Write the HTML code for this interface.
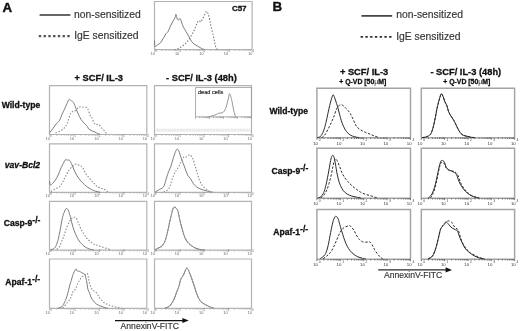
<!DOCTYPE html>
<html><head><meta charset="utf-8"><style>
html,body{margin:0;padding:0;background:#fff;}
svg{display:block;font-family:"Liberation Sans", sans-serif;will-change:transform;}
</style></head><body>
<svg width="520" height="331" viewBox="0 0 520 331">
<rect width="520" height="331" fill="#fff"/>
<text x="2.6" y="11.6" font-size="13.3" font-weight="bold" font-style="normal" fill="#111" text-anchor="start" stroke="#111" stroke-width="0.45" stroke-linejoin="round">A</text>
<line x1="39.6" y1="15.0" x2="70.4" y2="15.0" stroke="#555" stroke-width="1.8"/>
<line x1="38.8" y1="36.1" x2="70.2" y2="36.1" stroke="#555" stroke-width="2.1" stroke-dasharray="2.4,2.35"/>
<text x="74.1" y="17.7" font-size="10.35" font-weight="normal" font-style="normal" fill="#333" text-anchor="start" stroke="#333" stroke-width="0.15">non-sensitized</text>
<text x="74.2" y="39.2" font-size="10.35" font-weight="normal" font-style="normal" fill="#333" text-anchor="start" stroke="#333" stroke-width="0.15">IgE sensitized</text>
<path d="M154.5,49.6 L154.5,1.5 L252.1,1.5 L252.1,49.6" fill="none" stroke="#b3b3b3" stroke-width="1.2"/>
<line x1="154.5" y1="49.6" x2="252.1" y2="49.6" stroke="#b3b3b3" stroke-width="1.2"/>
<path d="M161.8,49.6 v1.3 M166.1,49.6 v1.3 M169.2,49.6 v1.3 M171.6,49.6 v1.3 M173.5,49.6 v1.3 M175.1,49.6 v1.3 M176.5,49.6 v1.3 M177.8,49.6 v1.3 M186.2,49.6 v1.3 M190.5,49.6 v1.3 M193.6,49.6 v1.3 M196.0,49.6 v1.3 M197.9,49.6 v1.3 M199.5,49.6 v1.3 M200.9,49.6 v1.3 M202.2,49.6 v1.3 M210.6,49.6 v1.3 M214.9,49.6 v1.3 M218.0,49.6 v1.3 M220.4,49.6 v1.3 M222.3,49.6 v1.3 M223.9,49.6 v1.3 M225.3,49.6 v1.3 M226.6,49.6 v1.3 M235.0,49.6 v1.3 M239.3,49.6 v1.3 M242.4,49.6 v1.3 M244.8,49.6 v1.3 M246.7,49.6 v1.3 M248.3,49.6 v1.3 M249.7,49.6 v1.3 M251.0,49.6 v1.3 M154.5,49.6 v2 M178.9,49.6 v2 M203.3,49.6 v2 M227.7,49.6 v2 M252.1,49.6 v2" stroke="#b3b3b3" stroke-width="0.8" fill="none"/>
<text x="154.8" y="54.7" font-size="3.8" fill="#666" text-anchor="end">10</text>
<text x="155.0" y="51.8" font-size="2.8" fill="#666">0</text>
<text x="179.2" y="54.7" font-size="3.8" fill="#666" text-anchor="end">10</text>
<text x="179.4" y="51.8" font-size="2.8" fill="#666">1</text>
<text x="203.6" y="54.7" font-size="3.8" fill="#666" text-anchor="end">10</text>
<text x="203.8" y="51.8" font-size="2.8" fill="#666">2</text>
<text x="228.0" y="54.7" font-size="3.8" fill="#666" text-anchor="end">10</text>
<text x="228.2" y="51.8" font-size="2.8" fill="#666">3</text>
<text x="252.4" y="54.7" font-size="3.8" fill="#666" text-anchor="end">10</text>
<text x="252.6" y="51.8" font-size="2.8" fill="#666">4</text>
<text x="231.9" y="11.2" font-size="8" font-weight="bold" font-style="normal" fill="#111" text-anchor="start" stroke="#111" stroke-width="0.3">C57</text>
<path d="M154.5,40.5 C154.6,41.5 154.5,45.6 155.0,46.3 C155.5,47.0 156.7,45.5 157.6,44.9 C158.5,44.3 159.4,43.9 160.3,42.9 C161.2,41.9 162.2,40.2 163.1,38.7 C164.0,37.2 165.1,35.0 165.9,33.8 C166.7,32.6 167.3,32.9 168.0,31.7 C168.7,30.6 169.3,28.6 170.1,26.9 C170.9,25.2 172.1,22.8 172.9,21.3 C173.7,19.8 174.5,19.0 175.0,17.8 C175.5,16.6 175.5,14.1 175.9,14.3 C176.3,14.5 176.8,18.3 177.3,19.2 C177.8,20.1 178.2,20.0 178.7,19.9 C179.2,19.8 179.6,18.1 180.1,18.5 C180.6,18.9 181.0,20.6 181.5,22.0 C182.0,23.4 182.5,25.3 183.3,26.9 C184.1,28.5 185.2,30.1 186.1,31.7 C187.0,33.3 188.0,35.0 188.9,36.6 C189.8,38.2 190.7,40.2 191.6,41.5 C192.5,42.8 193.3,43.4 194.4,44.2 C195.5,45.0 196.7,45.6 197.9,46.3 C199.1,47.0 200.2,47.8 201.4,48.4 C202.6,49.0 204.3,49.4 204.9,49.6" fill="none" stroke="#7c7c7c" stroke-width="1.0" stroke-linejoin="round"/>
<path d="M174.3,49.8 C175.0,49.6 177.1,49.0 178.4,48.4 C179.7,47.8 180.7,47.1 181.9,46.3 C183.1,45.5 184.2,44.8 185.4,43.6 C186.6,42.5 187.8,41.0 188.9,39.4 C190.1,37.8 191.3,35.6 192.3,33.8 C193.3,31.9 194.3,30.1 195.1,28.3 C195.9,26.5 196.5,24.0 197.2,22.7 C197.9,21.4 198.7,20.7 199.3,20.6 C199.9,20.5 200.1,22.4 200.7,22.0 C201.3,21.6 202.1,19.8 202.8,18.5 C203.5,17.2 204.3,15.5 204.9,14.3 C205.5,13.1 205.9,11.3 206.5,11.3 C207.1,11.3 207.8,12.9 208.3,14.3 C208.8,15.7 209.2,17.8 209.7,19.9 C210.2,22.0 210.5,24.3 211.1,26.9 C211.7,29.4 212.6,32.7 213.2,35.2 C213.8,37.8 214.1,40.1 214.6,42.2 C215.1,44.3 215.5,46.4 216.0,47.7 C216.5,49.0 217.2,49.4 217.4,49.8" fill="none" stroke="#7c7c7c" stroke-width="1.1" stroke-dasharray="1.5,1.6" stroke-linejoin="round"/>
<text x="74.6" y="80.5" font-size="9.3" font-weight="bold" font-style="normal" fill="#111" text-anchor="start" stroke="#111" stroke-width="0.3">+ SCF/ IL-3</text>
<text x="166.0" y="80.5" font-size="9.3" font-weight="bold" font-style="normal" fill="#111" text-anchor="start" stroke="#111" stroke-width="0.3">- SCF/ IL-3 (48h)</text>
<text x="1.7" y="107.9" font-size="8.6" font-weight="bold" font-style="normal" fill="#111" text-anchor="start" stroke="#111" stroke-width="0.3">Wild-type</text>
<text x="4.8" y="167.6" font-size="8.6" font-weight="bold" font-style="italic" fill="#111" text-anchor="start" stroke="#111" stroke-width="0.3">vav-Bcl2</text>
<text x="3.7" y="226.2" font-size="8.6" font-weight="bold" font-style="normal" fill="#111" text-anchor="start" stroke="#111" stroke-width="0.3">Casp-9<tspan font-size="8.6" dy="-3.2">-/-</tspan></text>
<text x="5.3" y="284.9" font-size="8.6" font-weight="bold" font-style="normal" fill="#111" text-anchor="start" stroke="#111" stroke-width="0.3">Apaf-1<tspan font-size="8.6" dy="-3.2">-/-</tspan></text>
<path d="M49.5,134.5 L49.5,85.6 L146.8,85.6 L146.8,134.5" fill="none" stroke="#b3b3b3" stroke-width="1.2"/>
<line x1="49.5" y1="134.5" x2="146.8" y2="134.5" stroke="#b3b3b3" stroke-width="1.2"/>
<path d="M56.8,134.5 v1.3 M61.1,134.5 v1.3 M64.1,134.5 v1.3 M66.5,134.5 v1.3 M68.4,134.5 v1.3 M70.1,134.5 v1.3 M71.5,134.5 v1.3 M72.7,134.5 v1.3 M81.1,134.5 v1.3 M85.4,134.5 v1.3 M88.5,134.5 v1.3 M90.8,134.5 v1.3 M92.8,134.5 v1.3 M94.4,134.5 v1.3 M95.8,134.5 v1.3 M97.0,134.5 v1.3 M105.5,134.5 v1.3 M109.8,134.5 v1.3 M112.8,134.5 v1.3 M115.2,134.5 v1.3 M117.1,134.5 v1.3 M118.7,134.5 v1.3 M120.1,134.5 v1.3 M121.4,134.5 v1.3 M129.8,134.5 v1.3 M134.1,134.5 v1.3 M137.1,134.5 v1.3 M139.5,134.5 v1.3 M141.4,134.5 v1.3 M143.0,134.5 v1.3 M144.4,134.5 v1.3 M145.7,134.5 v1.3 M49.5,134.5 v2 M73.8,134.5 v2 M98.2,134.5 v2 M122.5,134.5 v2 M146.8,134.5 v2" stroke="#b3b3b3" stroke-width="0.8" fill="none"/>
<text x="49.8" y="139.6" font-size="3.8" fill="#666" text-anchor="end">10</text>
<text x="50.0" y="136.7" font-size="2.8" fill="#666">0</text>
<text x="74.1" y="139.6" font-size="3.8" fill="#666" text-anchor="end">10</text>
<text x="74.3" y="136.7" font-size="2.8" fill="#666">1</text>
<text x="98.5" y="139.6" font-size="3.8" fill="#666" text-anchor="end">10</text>
<text x="98.7" y="136.7" font-size="2.8" fill="#666">2</text>
<text x="122.8" y="139.6" font-size="3.8" fill="#666" text-anchor="end">10</text>
<text x="123.0" y="136.7" font-size="2.8" fill="#666">3</text>
<text x="147.1" y="139.6" font-size="3.8" fill="#666" text-anchor="end">10</text>
<text x="147.3" y="136.7" font-size="2.8" fill="#666">4</text>
<path d="M154.5,134.5 L154.5,85.6 L251.5,85.6 L251.5,134.5" fill="none" stroke="#b3b3b3" stroke-width="1.2"/>
<line x1="154.5" y1="134.5" x2="251.5" y2="134.5" stroke="#b3b3b3" stroke-width="1.2"/>
<path d="M161.8,134.5 v1.3 M166.1,134.5 v1.3 M169.1,134.5 v1.3 M171.5,134.5 v1.3 M173.4,134.5 v1.3 M175.0,134.5 v1.3 M176.4,134.5 v1.3 M177.6,134.5 v1.3 M186.0,134.5 v1.3 M190.3,134.5 v1.3 M193.3,134.5 v1.3 M195.7,134.5 v1.3 M197.6,134.5 v1.3 M199.2,134.5 v1.3 M200.6,134.5 v1.3 M201.9,134.5 v1.3 M210.3,134.5 v1.3 M214.6,134.5 v1.3 M217.6,134.5 v1.3 M220.0,134.5 v1.3 M221.9,134.5 v1.3 M223.5,134.5 v1.3 M224.9,134.5 v1.3 M226.1,134.5 v1.3 M234.5,134.5 v1.3 M238.8,134.5 v1.3 M241.8,134.5 v1.3 M244.2,134.5 v1.3 M246.1,134.5 v1.3 M247.7,134.5 v1.3 M249.1,134.5 v1.3 M250.4,134.5 v1.3 M154.5,134.5 v2 M178.8,134.5 v2 M203.0,134.5 v2 M227.2,134.5 v2 M251.5,134.5 v2" stroke="#b3b3b3" stroke-width="0.8" fill="none"/>
<text x="154.8" y="139.6" font-size="3.8" fill="#666" text-anchor="end">10</text>
<text x="155.0" y="136.7" font-size="2.8" fill="#666">0</text>
<text x="179.1" y="139.6" font-size="3.8" fill="#666" text-anchor="end">10</text>
<text x="179.2" y="136.7" font-size="2.8" fill="#666">1</text>
<text x="203.3" y="139.6" font-size="3.8" fill="#666" text-anchor="end">10</text>
<text x="203.5" y="136.7" font-size="2.8" fill="#666">2</text>
<text x="227.6" y="139.6" font-size="3.8" fill="#666" text-anchor="end">10</text>
<text x="227.8" y="136.7" font-size="2.8" fill="#666">3</text>
<text x="251.8" y="139.6" font-size="3.8" fill="#666" text-anchor="end">10</text>
<text x="252.0" y="136.7" font-size="2.8" fill="#666">4</text>
<path d="M49.5,192.3 L49.5,143.8 L146.8,143.8 L146.8,192.3" fill="none" stroke="#b3b3b3" stroke-width="1.2"/>
<line x1="49.5" y1="192.3" x2="146.8" y2="192.3" stroke="#b3b3b3" stroke-width="1.2"/>
<path d="M56.8,192.3 v1.3 M61.1,192.3 v1.3 M64.1,192.3 v1.3 M66.5,192.3 v1.3 M68.4,192.3 v1.3 M70.1,192.3 v1.3 M71.5,192.3 v1.3 M72.7,192.3 v1.3 M81.1,192.3 v1.3 M85.4,192.3 v1.3 M88.5,192.3 v1.3 M90.8,192.3 v1.3 M92.8,192.3 v1.3 M94.4,192.3 v1.3 M95.8,192.3 v1.3 M97.0,192.3 v1.3 M105.5,192.3 v1.3 M109.8,192.3 v1.3 M112.8,192.3 v1.3 M115.2,192.3 v1.3 M117.1,192.3 v1.3 M118.7,192.3 v1.3 M120.1,192.3 v1.3 M121.4,192.3 v1.3 M129.8,192.3 v1.3 M134.1,192.3 v1.3 M137.1,192.3 v1.3 M139.5,192.3 v1.3 M141.4,192.3 v1.3 M143.0,192.3 v1.3 M144.4,192.3 v1.3 M145.7,192.3 v1.3 M49.5,192.3 v2 M73.8,192.3 v2 M98.2,192.3 v2 M122.5,192.3 v2 M146.8,192.3 v2" stroke="#b3b3b3" stroke-width="0.8" fill="none"/>
<text x="49.8" y="197.4" font-size="3.8" fill="#666" text-anchor="end">10</text>
<text x="50.0" y="194.5" font-size="2.8" fill="#666">0</text>
<text x="74.1" y="197.4" font-size="3.8" fill="#666" text-anchor="end">10</text>
<text x="74.3" y="194.5" font-size="2.8" fill="#666">1</text>
<text x="98.5" y="197.4" font-size="3.8" fill="#666" text-anchor="end">10</text>
<text x="98.7" y="194.5" font-size="2.8" fill="#666">2</text>
<text x="122.8" y="197.4" font-size="3.8" fill="#666" text-anchor="end">10</text>
<text x="123.0" y="194.5" font-size="2.8" fill="#666">3</text>
<text x="147.1" y="197.4" font-size="3.8" fill="#666" text-anchor="end">10</text>
<text x="147.3" y="194.5" font-size="2.8" fill="#666">4</text>
<path d="M154.5,192.3 L154.5,143.8 L251.5,143.8 L251.5,192.3" fill="none" stroke="#b3b3b3" stroke-width="1.2"/>
<line x1="154.5" y1="192.3" x2="251.5" y2="192.3" stroke="#b3b3b3" stroke-width="1.2"/>
<path d="M161.8,192.3 v1.3 M166.1,192.3 v1.3 M169.1,192.3 v1.3 M171.5,192.3 v1.3 M173.4,192.3 v1.3 M175.0,192.3 v1.3 M176.4,192.3 v1.3 M177.6,192.3 v1.3 M186.0,192.3 v1.3 M190.3,192.3 v1.3 M193.3,192.3 v1.3 M195.7,192.3 v1.3 M197.6,192.3 v1.3 M199.2,192.3 v1.3 M200.6,192.3 v1.3 M201.9,192.3 v1.3 M210.3,192.3 v1.3 M214.6,192.3 v1.3 M217.6,192.3 v1.3 M220.0,192.3 v1.3 M221.9,192.3 v1.3 M223.5,192.3 v1.3 M224.9,192.3 v1.3 M226.1,192.3 v1.3 M234.5,192.3 v1.3 M238.8,192.3 v1.3 M241.8,192.3 v1.3 M244.2,192.3 v1.3 M246.1,192.3 v1.3 M247.7,192.3 v1.3 M249.1,192.3 v1.3 M250.4,192.3 v1.3 M154.5,192.3 v2 M178.8,192.3 v2 M203.0,192.3 v2 M227.2,192.3 v2 M251.5,192.3 v2" stroke="#b3b3b3" stroke-width="0.8" fill="none"/>
<text x="154.8" y="197.4" font-size="3.8" fill="#666" text-anchor="end">10</text>
<text x="155.0" y="194.5" font-size="2.8" fill="#666">0</text>
<text x="179.1" y="197.4" font-size="3.8" fill="#666" text-anchor="end">10</text>
<text x="179.2" y="194.5" font-size="2.8" fill="#666">1</text>
<text x="203.3" y="197.4" font-size="3.8" fill="#666" text-anchor="end">10</text>
<text x="203.5" y="194.5" font-size="2.8" fill="#666">2</text>
<text x="227.6" y="197.4" font-size="3.8" fill="#666" text-anchor="end">10</text>
<text x="227.8" y="194.5" font-size="2.8" fill="#666">3</text>
<text x="251.8" y="197.4" font-size="3.8" fill="#666" text-anchor="end">10</text>
<text x="252.0" y="194.5" font-size="2.8" fill="#666">4</text>
<path d="M49.5,250.1 L49.5,201.3 L146.8,201.3 L146.8,250.1" fill="none" stroke="#b3b3b3" stroke-width="1.2"/>
<line x1="49.5" y1="250.1" x2="146.8" y2="250.1" stroke="#b3b3b3" stroke-width="1.2"/>
<path d="M56.8,250.1 v1.3 M61.1,250.1 v1.3 M64.1,250.1 v1.3 M66.5,250.1 v1.3 M68.4,250.1 v1.3 M70.1,250.1 v1.3 M71.5,250.1 v1.3 M72.7,250.1 v1.3 M81.1,250.1 v1.3 M85.4,250.1 v1.3 M88.5,250.1 v1.3 M90.8,250.1 v1.3 M92.8,250.1 v1.3 M94.4,250.1 v1.3 M95.8,250.1 v1.3 M97.0,250.1 v1.3 M105.5,250.1 v1.3 M109.8,250.1 v1.3 M112.8,250.1 v1.3 M115.2,250.1 v1.3 M117.1,250.1 v1.3 M118.7,250.1 v1.3 M120.1,250.1 v1.3 M121.4,250.1 v1.3 M129.8,250.1 v1.3 M134.1,250.1 v1.3 M137.1,250.1 v1.3 M139.5,250.1 v1.3 M141.4,250.1 v1.3 M143.0,250.1 v1.3 M144.4,250.1 v1.3 M145.7,250.1 v1.3 M49.5,250.1 v2 M73.8,250.1 v2 M98.2,250.1 v2 M122.5,250.1 v2 M146.8,250.1 v2" stroke="#b3b3b3" stroke-width="0.8" fill="none"/>
<text x="49.8" y="255.2" font-size="3.8" fill="#666" text-anchor="end">10</text>
<text x="50.0" y="252.3" font-size="2.8" fill="#666">0</text>
<text x="74.1" y="255.2" font-size="3.8" fill="#666" text-anchor="end">10</text>
<text x="74.3" y="252.3" font-size="2.8" fill="#666">1</text>
<text x="98.5" y="255.2" font-size="3.8" fill="#666" text-anchor="end">10</text>
<text x="98.7" y="252.3" font-size="2.8" fill="#666">2</text>
<text x="122.8" y="255.2" font-size="3.8" fill="#666" text-anchor="end">10</text>
<text x="123.0" y="252.3" font-size="2.8" fill="#666">3</text>
<text x="147.1" y="255.2" font-size="3.8" fill="#666" text-anchor="end">10</text>
<text x="147.3" y="252.3" font-size="2.8" fill="#666">4</text>
<path d="M154.5,250.1 L154.5,201.3 L251.5,201.3 L251.5,250.1" fill="none" stroke="#b3b3b3" stroke-width="1.2"/>
<line x1="154.5" y1="250.1" x2="251.5" y2="250.1" stroke="#b3b3b3" stroke-width="1.2"/>
<path d="M161.8,250.1 v1.3 M166.1,250.1 v1.3 M169.1,250.1 v1.3 M171.5,250.1 v1.3 M173.4,250.1 v1.3 M175.0,250.1 v1.3 M176.4,250.1 v1.3 M177.6,250.1 v1.3 M186.0,250.1 v1.3 M190.3,250.1 v1.3 M193.3,250.1 v1.3 M195.7,250.1 v1.3 M197.6,250.1 v1.3 M199.2,250.1 v1.3 M200.6,250.1 v1.3 M201.9,250.1 v1.3 M210.3,250.1 v1.3 M214.6,250.1 v1.3 M217.6,250.1 v1.3 M220.0,250.1 v1.3 M221.9,250.1 v1.3 M223.5,250.1 v1.3 M224.9,250.1 v1.3 M226.1,250.1 v1.3 M234.5,250.1 v1.3 M238.8,250.1 v1.3 M241.8,250.1 v1.3 M244.2,250.1 v1.3 M246.1,250.1 v1.3 M247.7,250.1 v1.3 M249.1,250.1 v1.3 M250.4,250.1 v1.3 M154.5,250.1 v2 M178.8,250.1 v2 M203.0,250.1 v2 M227.2,250.1 v2 M251.5,250.1 v2" stroke="#b3b3b3" stroke-width="0.8" fill="none"/>
<text x="154.8" y="255.2" font-size="3.8" fill="#666" text-anchor="end">10</text>
<text x="155.0" y="252.3" font-size="2.8" fill="#666">0</text>
<text x="179.1" y="255.2" font-size="3.8" fill="#666" text-anchor="end">10</text>
<text x="179.2" y="252.3" font-size="2.8" fill="#666">1</text>
<text x="203.3" y="255.2" font-size="3.8" fill="#666" text-anchor="end">10</text>
<text x="203.5" y="252.3" font-size="2.8" fill="#666">2</text>
<text x="227.6" y="255.2" font-size="3.8" fill="#666" text-anchor="end">10</text>
<text x="227.8" y="252.3" font-size="2.8" fill="#666">3</text>
<text x="251.8" y="255.2" font-size="3.8" fill="#666" text-anchor="end">10</text>
<text x="252.0" y="252.3" font-size="2.8" fill="#666">4</text>
<path d="M49.5,308.4 L49.5,259.0 L146.8,259.0 L146.8,308.4" fill="none" stroke="#b3b3b3" stroke-width="1.2"/>
<line x1="49.5" y1="308.4" x2="146.8" y2="308.4" stroke="#b3b3b3" stroke-width="1.2"/>
<path d="M56.8,308.4 v1.3 M61.1,308.4 v1.3 M64.1,308.4 v1.3 M66.5,308.4 v1.3 M68.4,308.4 v1.3 M70.1,308.4 v1.3 M71.5,308.4 v1.3 M72.7,308.4 v1.3 M81.1,308.4 v1.3 M85.4,308.4 v1.3 M88.5,308.4 v1.3 M90.8,308.4 v1.3 M92.8,308.4 v1.3 M94.4,308.4 v1.3 M95.8,308.4 v1.3 M97.0,308.4 v1.3 M105.5,308.4 v1.3 M109.8,308.4 v1.3 M112.8,308.4 v1.3 M115.2,308.4 v1.3 M117.1,308.4 v1.3 M118.7,308.4 v1.3 M120.1,308.4 v1.3 M121.4,308.4 v1.3 M129.8,308.4 v1.3 M134.1,308.4 v1.3 M137.1,308.4 v1.3 M139.5,308.4 v1.3 M141.4,308.4 v1.3 M143.0,308.4 v1.3 M144.4,308.4 v1.3 M145.7,308.4 v1.3 M49.5,308.4 v2 M73.8,308.4 v2 M98.2,308.4 v2 M122.5,308.4 v2 M146.8,308.4 v2" stroke="#b3b3b3" stroke-width="0.8" fill="none"/>
<text x="49.8" y="313.5" font-size="3.8" fill="#666" text-anchor="end">10</text>
<text x="50.0" y="310.6" font-size="2.8" fill="#666">0</text>
<text x="74.1" y="313.5" font-size="3.8" fill="#666" text-anchor="end">10</text>
<text x="74.3" y="310.6" font-size="2.8" fill="#666">1</text>
<text x="98.5" y="313.5" font-size="3.8" fill="#666" text-anchor="end">10</text>
<text x="98.7" y="310.6" font-size="2.8" fill="#666">2</text>
<text x="122.8" y="313.5" font-size="3.8" fill="#666" text-anchor="end">10</text>
<text x="123.0" y="310.6" font-size="2.8" fill="#666">3</text>
<text x="147.1" y="313.5" font-size="3.8" fill="#666" text-anchor="end">10</text>
<text x="147.3" y="310.6" font-size="2.8" fill="#666">4</text>
<path d="M154.5,308.4 L154.5,259.0 L251.5,259.0 L251.5,308.4" fill="none" stroke="#b3b3b3" stroke-width="1.2"/>
<line x1="154.5" y1="308.4" x2="251.5" y2="308.4" stroke="#b3b3b3" stroke-width="1.2"/>
<path d="M161.8,308.4 v1.3 M166.1,308.4 v1.3 M169.1,308.4 v1.3 M171.5,308.4 v1.3 M173.4,308.4 v1.3 M175.0,308.4 v1.3 M176.4,308.4 v1.3 M177.6,308.4 v1.3 M186.0,308.4 v1.3 M190.3,308.4 v1.3 M193.3,308.4 v1.3 M195.7,308.4 v1.3 M197.6,308.4 v1.3 M199.2,308.4 v1.3 M200.6,308.4 v1.3 M201.9,308.4 v1.3 M210.3,308.4 v1.3 M214.6,308.4 v1.3 M217.6,308.4 v1.3 M220.0,308.4 v1.3 M221.9,308.4 v1.3 M223.5,308.4 v1.3 M224.9,308.4 v1.3 M226.1,308.4 v1.3 M234.5,308.4 v1.3 M238.8,308.4 v1.3 M241.8,308.4 v1.3 M244.2,308.4 v1.3 M246.1,308.4 v1.3 M247.7,308.4 v1.3 M249.1,308.4 v1.3 M250.4,308.4 v1.3 M154.5,308.4 v2 M178.8,308.4 v2 M203.0,308.4 v2 M227.2,308.4 v2 M251.5,308.4 v2" stroke="#b3b3b3" stroke-width="0.8" fill="none"/>
<text x="154.8" y="313.5" font-size="3.8" fill="#666" text-anchor="end">10</text>
<text x="155.0" y="310.6" font-size="2.8" fill="#666">0</text>
<text x="179.1" y="313.5" font-size="3.8" fill="#666" text-anchor="end">10</text>
<text x="179.2" y="310.6" font-size="2.8" fill="#666">1</text>
<text x="203.3" y="313.5" font-size="3.8" fill="#666" text-anchor="end">10</text>
<text x="203.5" y="310.6" font-size="2.8" fill="#666">2</text>
<text x="227.6" y="313.5" font-size="3.8" fill="#666" text-anchor="end">10</text>
<text x="227.8" y="310.6" font-size="2.8" fill="#666">3</text>
<text x="251.8" y="313.5" font-size="3.8" fill="#666" text-anchor="end">10</text>
<text x="252.0" y="310.6" font-size="2.8" fill="#666">4</text>
<path d="M49.3,133.2 C49.6,132.8 50.4,131.8 51.0,131.0 C51.6,130.2 52.2,129.5 53.1,128.3 C54.0,127.1 55.2,125.1 56.3,123.8 C57.3,122.5 58.4,122.3 59.4,120.7 C60.4,119.1 61.1,116.2 62.0,114.3 C62.9,112.4 63.7,111.0 64.5,109.2 C65.3,107.4 66.2,105.2 67.0,103.5 C67.8,101.8 68.5,99.7 69.3,99.3 C70.0,98.9 70.8,100.5 71.5,101.0 C72.2,101.5 72.8,101.3 73.4,102.3 C74.0,103.2 74.6,104.9 75.3,106.7 C76.0,108.5 76.8,110.9 77.8,113.0 C78.8,115.1 79.8,117.6 81.0,119.4 C82.2,121.2 83.7,122.6 84.8,123.8 C85.9,125.0 86.8,125.6 87.4,126.4 C88.0,127.2 87.9,128.2 88.6,128.9 C89.3,129.6 90.7,130.3 91.8,130.8 C92.9,131.3 94.0,131.7 95.0,132.1 C96.0,132.5 96.7,133.1 97.5,133.4 C98.3,133.8 99.6,134.1 100.0,134.2" fill="none" stroke="#7c7c7c" stroke-width="1.0" stroke-linejoin="round"/>
<path d="M55.6,133.0 C56.5,132.6 59.2,131.7 60.7,130.8 C62.2,129.9 63.5,128.9 64.5,127.7 C65.5,126.5 66.2,125.4 67.0,123.8 C67.8,122.2 68.3,119.9 69.0,118.1 C69.7,116.3 70.2,114.2 70.9,113.0 C71.6,111.8 72.6,111.5 73.4,111.1 C74.2,110.7 75.1,111.1 75.9,110.5 C76.8,109.9 77.7,107.9 78.5,107.3 C79.3,106.7 80.2,106.7 81.0,106.7 C81.8,106.7 82.8,107.2 83.6,107.3 C84.4,107.4 85.4,107.0 86.1,107.3 C86.8,107.6 87.4,107.9 88.0,109.2 C88.6,110.5 89.3,113.6 89.9,115.0 C90.5,116.4 91.1,116.1 91.8,117.5 C92.5,118.9 93.5,122.0 94.3,123.2 C95.0,124.4 95.5,124.3 96.3,124.5 C97.0,124.7 98.0,124.0 98.8,124.5 C99.6,125.0 100.4,126.8 101.3,127.7 C102.2,128.7 103.2,129.4 103.9,130.2 C104.7,131.0 105.3,132.1 105.8,132.7 C106.3,133.3 106.8,133.8 107.0,134.0" fill="none" stroke="#8c8c8c" stroke-width="1.1" stroke-dasharray="1.5,1.6" stroke-linejoin="round"/>
<path d="M49.5,181.0 C49.6,181.7 49.8,184.6 50.3,185.0 C50.8,185.4 51.6,184.5 52.4,183.7 C53.2,182.9 54.3,181.5 55.3,180.1 C56.3,178.7 57.2,177.1 58.2,175.0 C59.2,172.9 60.1,170.0 61.1,167.8 C62.1,165.6 63.3,163.3 64.0,162.0 C64.7,160.7 64.8,160.1 65.4,159.8 C66.0,159.5 66.9,160.0 67.6,160.1 C68.3,160.2 69.1,159.7 69.8,160.5 C70.5,161.3 71.3,163.3 72.0,164.9 C72.7,166.5 73.3,168.2 74.1,170.0 C74.9,171.8 75.9,174.0 77.0,175.8 C78.1,177.6 79.5,179.4 80.7,180.8 C81.9,182.2 83.1,183.4 84.3,184.5 C85.5,185.6 86.7,186.6 87.9,187.4 C89.1,188.2 90.2,188.8 91.5,189.5 C92.8,190.2 94.5,190.9 95.9,191.3 C97.4,191.8 99.5,192.0 100.2,192.2" fill="none" stroke="#7c7c7c" stroke-width="1.0" stroke-linejoin="round"/>
<path d="M50.9,191.5 C51.6,191.1 53.8,189.6 55.3,188.8 C56.8,188.0 58.4,187.7 59.6,186.6 C60.8,185.5 61.6,183.8 62.5,182.3 C63.4,180.9 64.0,179.4 64.7,177.9 C65.4,176.4 66.1,175.1 66.9,173.6 C67.8,172.1 68.8,170.4 69.8,169.2 C70.8,168.0 71.7,167.2 72.7,166.3 C73.7,165.5 74.6,164.3 75.6,164.1 C76.6,163.9 77.5,164.5 78.5,164.9 C79.5,165.3 80.6,165.6 81.4,166.3 C82.2,167.0 82.9,168.0 83.6,169.2 C84.3,170.4 84.9,172.3 85.7,173.6 C86.5,174.9 87.6,176.0 88.6,177.2 C89.6,178.4 90.5,179.7 91.5,180.8 C92.5,181.9 93.4,182.7 94.4,183.7 C95.4,184.7 96.2,185.9 97.3,186.6 C98.4,187.3 99.8,187.6 101.0,188.1 C102.2,188.6 103.5,188.9 104.6,189.5 C105.7,190.1 106.8,191.2 107.5,191.7 C108.2,192.2 108.8,192.2 109.0,192.3" fill="none" stroke="#8c8c8c" stroke-width="1.1" stroke-dasharray="1.5,1.6" stroke-linejoin="round"/>
<path d="M154.9,192.2 C155.6,191.8 158.1,190.2 159.3,189.5 C160.5,188.8 161.4,188.8 162.2,188.1 C163.0,187.4 163.6,186.9 164.3,185.2 C165.0,183.5 165.8,180.2 166.5,177.9 C167.2,175.6 168.0,173.3 168.7,171.4 C169.4,169.5 170.2,168.4 170.9,166.3 C171.6,164.2 172.3,161.4 173.0,159.1 C173.7,156.8 174.5,154.2 175.2,152.5 C175.9,150.8 176.4,149.4 177.0,149.2 C177.6,149.0 178.2,149.7 178.9,151.1 C179.6,152.5 180.3,155.5 181.0,157.6 C181.7,159.7 182.5,161.5 183.2,163.4 C183.9,165.3 184.7,167.3 185.4,169.2 C186.1,171.1 186.8,173.4 187.6,175.0 C188.4,176.6 189.5,177.2 190.5,178.7 C191.5,180.1 192.4,182.4 193.4,183.7 C194.4,185.0 195.2,185.8 196.3,186.6 C197.4,187.4 198.6,188.2 199.9,188.8 C201.2,189.4 202.8,189.9 204.2,190.3 C205.6,190.7 207.4,191.0 208.6,191.3 C209.8,191.6 211.0,192.0 211.5,192.2" fill="none" stroke="#7c7c7c" stroke-width="1.0" stroke-linejoin="round"/>
<path d="M163.6,192.2 C164.3,191.8 166.9,190.6 168.0,189.5 C169.1,188.4 169.4,187.7 170.1,185.9 C170.8,184.1 171.5,181.0 172.3,178.7 C173.2,176.4 174.2,173.9 175.2,172.1 C176.2,170.3 177.1,169.5 178.1,167.8 C179.1,166.1 180.0,163.8 181.0,162.0 C182.0,160.2 182.9,157.8 183.9,156.9 C184.9,156.1 185.8,157.3 186.8,156.9 C187.8,156.5 188.7,154.5 189.7,154.7 C190.7,154.9 191.8,156.6 192.6,158.3 C193.4,160.0 194.1,162.6 194.8,164.9 C195.5,167.2 196.3,169.7 197.0,172.1 C197.7,174.5 198.3,177.2 199.2,179.4 C200.0,181.6 201.0,183.6 202.1,185.2 C203.2,186.8 204.5,187.8 205.7,188.8 C206.9,189.8 208.1,190.7 209.3,191.3 C210.5,191.9 212.4,192.0 213.0,192.2" fill="none" stroke="#8c8c8c" stroke-width="1.1" stroke-dasharray="1.5,1.6" stroke-linejoin="round"/>
<path d="M50.9,249.5 C51.4,249.4 52.9,249.3 53.8,248.7 C54.6,248.1 55.3,247.4 56.0,245.8 C56.7,244.2 57.5,242.1 58.2,239.3 C58.9,236.5 59.6,232.7 60.3,229.1 C61.0,225.5 61.8,220.5 62.5,217.5 C63.2,214.5 64.0,212.5 64.7,211.0 C65.4,209.5 65.8,208.6 66.4,208.5 C67.0,208.4 67.6,208.8 68.3,210.3 C69.0,211.8 69.8,214.8 70.5,217.5 C71.2,220.2 71.9,223.4 72.7,226.2 C73.5,229.0 74.6,231.9 75.6,234.2 C76.6,236.5 77.4,238.3 78.5,240.0 C79.6,241.7 80.9,243.2 82.1,244.4 C83.3,245.6 84.4,246.5 85.7,247.3 C87.0,248.1 88.7,248.8 90.1,249.2 C91.5,249.6 93.3,249.9 94.0,250.0" fill="none" stroke="#7c7c7c" stroke-width="1.0" stroke-linejoin="round"/>
<path d="M56.7,249.3 C57.2,248.8 58.6,248.2 59.6,246.5 C60.6,244.8 61.6,241.5 62.5,239.3 C63.4,237.1 64.0,235.6 64.7,233.5 C65.4,231.4 66.1,229.1 66.9,227.0 C67.8,224.9 69.0,222.6 69.8,221.1 C70.6,219.6 71.2,218.8 71.9,218.2 C72.6,217.5 73.4,217.2 74.1,217.2 C74.8,217.2 75.6,217.2 76.3,218.2 C77.0,219.2 77.8,221.6 78.5,223.3 C79.2,225.0 79.9,226.7 80.7,228.4 C81.5,230.1 82.6,231.9 83.6,233.5 C84.6,235.1 85.4,236.5 86.5,237.8 C87.6,239.1 88.8,240.4 90.1,241.5 C91.4,242.6 93.0,243.7 94.4,244.4 C95.9,245.1 97.3,245.3 98.8,245.8 C100.3,246.3 101.8,246.8 103.2,247.3 C104.7,247.8 106.3,248.3 107.5,248.7 C108.7,249.1 109.9,249.4 110.4,249.6" fill="none" stroke="#8c8c8c" stroke-width="1.1" stroke-dasharray="1.5,1.6" stroke-linejoin="round"/>
<path d="M154.9,249.7 C155.5,249.4 157.3,248.7 158.5,248.0 C159.7,247.3 161.1,247.0 162.2,245.8 C163.3,244.6 164.3,242.8 165.1,240.7 C165.9,238.6 166.5,236.4 167.2,233.5 C167.9,230.6 168.7,226.6 169.4,223.3 C170.1,220.0 171.0,216.3 171.6,213.9 C172.2,211.5 172.5,209.9 173.0,208.8 C173.5,207.7 173.9,207.1 174.5,207.1 C175.1,207.1 176.1,208.0 176.7,208.8 C177.3,209.6 177.6,210.0 178.1,211.7 C178.6,213.4 179.0,216.3 179.6,219.0 C180.2,221.7 181.1,225.0 181.8,227.7 C182.5,230.3 183.2,232.8 183.9,234.9 C184.6,237.0 185.2,238.6 186.1,240.0 C186.9,241.4 187.9,242.5 189.0,243.6 C190.1,244.7 191.3,245.7 192.6,246.5 C193.9,247.3 195.6,248.2 197.0,248.7 C198.4,249.2 200.1,249.5 201.3,249.7 C202.5,249.9 203.6,250.0 204.0,250.1" fill="none" stroke="#7c7c7c" stroke-width="1.0" stroke-linejoin="round"/>
<path d="M154.9,249.7 C155.5,249.4 157.3,248.7 158.5,248.0 C159.7,247.3 161.1,247.0 162.2,245.8 C163.3,244.6 164.3,242.8 165.1,240.7 C165.9,238.6 166.5,236.4 167.2,233.5 C167.9,230.6 168.7,226.6 169.4,223.3 C170.1,220.0 171.0,216.3 171.6,213.9 C172.2,211.5 172.5,209.9 173.0,208.8 C173.5,207.7 173.9,207.1 174.5,207.1 C175.1,207.1 176.1,208.0 176.7,208.8 C177.3,209.6 177.6,210.0 178.1,211.7 C178.6,213.4 179.0,216.3 179.6,219.0 C180.2,221.7 181.1,225.0 181.8,227.7 C182.5,230.3 183.2,232.8 183.9,234.9 C184.6,237.0 185.2,238.6 186.1,240.0 C186.9,241.4 187.9,242.5 189.0,243.6 C190.1,244.7 191.3,245.7 192.6,246.5 C193.9,247.3 195.6,248.2 197.0,248.7 C198.4,249.2 200.1,249.5 201.3,249.7 C202.5,249.9 203.6,250.0 204.0,250.1" fill="none" stroke="#8c8c8c" stroke-width="1.1" stroke-dasharray="1.5,1.6" stroke-linejoin="round"/>
<path d="M57.6,308.2 C58.0,308.1 59.2,307.8 59.9,307.6 C60.6,307.4 61.3,307.3 61.9,306.8 C62.5,306.3 62.9,305.4 63.5,304.4 C64.1,303.3 64.8,301.9 65.4,300.5 C66.0,299.1 66.5,297.5 67.0,295.8 C67.5,294.1 68.1,292.3 68.6,290.3 C69.1,288.3 69.6,285.6 70.1,284.0 C70.5,282.4 70.9,281.9 71.3,280.5 C71.7,279.1 72.2,276.8 72.7,275.4 C73.2,273.9 73.7,272.9 74.2,271.8 C74.8,270.7 75.5,269.0 76.0,268.9 C76.5,268.8 76.8,270.7 77.4,271.1 C78.0,271.5 78.9,271.2 79.6,271.4 C80.3,271.6 80.8,272.2 81.4,272.5 C82.0,272.8 82.7,273.0 83.2,273.3 C83.8,273.6 84.3,273.8 84.7,274.3 C85.1,274.8 85.1,275.2 85.4,276.2 C85.7,277.2 86.2,279.1 86.5,280.5 C86.8,281.9 87.0,283.4 87.2,284.9 C87.4,286.3 87.5,287.8 87.9,289.2 C88.3,290.6 89.2,292.1 89.8,293.6 C90.4,295.1 90.7,296.8 91.3,298.0 C91.9,299.2 92.7,300.0 93.5,301.0 C94.3,302.0 95.2,303.1 96.4,304.0 C97.6,304.9 99.4,305.6 100.9,306.2 C102.4,306.8 104.1,307.3 105.3,307.7 C106.5,308.1 107.5,308.2 108.0,308.3" fill="none" stroke="#7c7c7c" stroke-width="1.0" stroke-linejoin="round"/>
<path d="M62.7,308.2 C62.9,308.0 63.4,307.4 63.9,306.8 C64.4,306.2 65.1,305.2 65.8,304.4 C66.5,303.6 67.1,302.9 67.8,302.1 C68.5,301.3 69.1,300.6 69.7,299.7 C70.3,298.8 70.8,297.8 71.3,296.6 C71.8,295.4 72.0,293.7 72.5,292.6 C73.0,291.6 73.9,291.1 74.5,290.3 C75.1,289.5 75.5,289.0 76.0,287.9 C76.5,286.8 77.2,284.7 77.8,283.4 C78.4,282.1 78.9,281.3 79.6,280.2 C80.3,279.1 81.2,277.8 82.1,276.9 C83.0,276.0 84.2,275.3 85.0,274.7 C85.8,274.1 86.7,272.9 87.2,273.3 C87.8,273.7 88.0,275.6 88.3,276.9 C88.6,278.2 88.7,279.9 89.0,281.2 C89.3,282.5 89.7,283.7 90.1,284.9 C90.5,286.1 91.0,287.6 91.6,288.5 C92.2,289.4 92.7,289.9 93.5,290.6 C94.3,291.3 95.5,291.9 96.4,292.9 C97.3,293.9 98.0,295.5 98.7,296.6 C99.5,297.7 100.0,298.5 100.9,299.5 C101.8,300.5 102.7,301.6 103.9,302.5 C105.1,303.4 106.8,304.1 108.3,304.7 C109.8,305.3 111.2,305.8 112.7,306.2 C114.2,306.6 115.7,306.9 117.2,307.2 C118.7,307.5 120.9,308.0 121.6,308.2" fill="none" stroke="#8c8c8c" stroke-width="1.1" stroke-dasharray="1.5,1.6" stroke-linejoin="round"/>
<path d="M164.9,308.2 C165.6,307.9 168.1,307.1 169.3,306.2 C170.5,305.2 171.4,303.9 172.3,302.5 C173.2,301.1 173.8,299.7 174.5,298.0 C175.2,296.3 175.9,294.1 176.7,292.1 C177.4,290.1 178.4,288.2 179.0,286.2 C179.6,284.2 179.9,281.8 180.4,280.3 C180.9,278.8 181.4,278.2 181.9,277.3 C182.4,276.4 182.8,276.2 183.4,275.1 C184.0,274.0 184.8,271.8 185.3,270.6 C185.9,269.4 186.2,268.2 186.7,268.1 C187.2,268.0 187.7,268.9 188.3,269.9 C188.9,270.9 189.4,272.6 190.1,274.3 C190.8,276.0 191.6,278.2 192.3,280.3 C193.0,282.4 193.8,284.7 194.5,286.9 C195.2,289.1 195.9,291.6 196.7,293.6 C197.4,295.6 198.1,297.3 199.0,298.8 C199.9,300.3 200.8,301.5 201.9,302.5 C203.0,303.5 204.4,304.0 205.6,304.7 C206.8,305.4 207.9,306.0 209.3,306.6 C210.7,307.2 213.1,307.9 213.8,308.2" fill="none" stroke="#7c7c7c" stroke-width="1.0" stroke-linejoin="round"/>
<path d="M164.9,308.2 C165.6,307.9 168.1,307.1 169.3,306.2 C170.5,305.2 171.4,303.9 172.3,302.5 C173.2,301.1 173.8,299.7 174.5,298.0 C175.2,296.3 175.9,294.1 176.7,292.1 C177.4,290.1 178.4,288.2 179.0,286.2 C179.6,284.2 179.9,281.8 180.4,280.3 C180.9,278.8 181.4,278.2 181.9,277.3 C182.4,276.4 182.8,276.2 183.4,275.1 C184.0,274.0 184.8,271.8 185.3,270.6 C185.9,269.4 186.2,268.2 186.7,268.1 C187.2,268.0 187.7,268.9 188.3,269.9 C188.9,270.9 189.4,272.6 190.1,274.3 C190.8,276.0 191.6,278.2 192.3,280.3 C193.0,282.4 193.8,284.7 194.5,286.9 C195.2,289.1 195.9,291.6 196.7,293.6 C197.4,295.6 198.1,297.3 199.0,298.8 C199.9,300.3 200.8,301.5 201.9,302.5 C203.0,303.5 204.4,304.0 205.6,304.7 C206.8,305.4 207.9,306.0 209.3,306.6 C210.7,307.2 213.1,307.9 213.8,308.2" fill="none" stroke="#8c8c8c" stroke-width="1.1" stroke-dasharray="1.5,1.6" stroke-linejoin="round"/>
<rect x="155.5" y="128.4" width="95.5" height="3.6" fill="#f3f3f3"/>
<line x1="156" y1="130.2" x2="250.5" y2="130.2" stroke="#e2e2e2" stroke-width="1.2" stroke-dasharray="2,1"/>
<path d="M195.5,116.8 L195.5,87.5 L251.5,87.5 L251.5,116.8" fill="none" stroke="#9a9a9a" stroke-width="0.8"/>
<line x1="195.5" y1="116.8" x2="251.5" y2="116.8" stroke="#9a9a9a" stroke-width="0.8"/>
<path d="M199.7,116.8 v1.3 M202.2,116.8 v1.3 M203.9,116.8 v1.3 M205.3,116.8 v1.3 M206.4,116.8 v1.3 M207.3,116.8 v1.3 M208.1,116.8 v1.3 M208.9,116.8 v1.3 M213.7,116.8 v1.3 M216.2,116.8 v1.3 M217.9,116.8 v1.3 M219.3,116.8 v1.3 M220.4,116.8 v1.3 M221.3,116.8 v1.3 M222.1,116.8 v1.3 M222.9,116.8 v1.3 M227.7,116.8 v1.3 M230.2,116.8 v1.3 M231.9,116.8 v1.3 M233.3,116.8 v1.3 M234.4,116.8 v1.3 M235.3,116.8 v1.3 M236.1,116.8 v1.3 M236.9,116.8 v1.3 M241.7,116.8 v1.3 M244.2,116.8 v1.3 M245.9,116.8 v1.3 M247.3,116.8 v1.3 M248.4,116.8 v1.3 M249.3,116.8 v1.3 M250.1,116.8 v1.3 M250.9,116.8 v1.3 M195.5,116.8 v2 M209.5,116.8 v2 M223.5,116.8 v2 M237.5,116.8 v2 M251.5,116.8 v2" stroke="#9a9a9a" stroke-width="0.8" fill="none"/>
<text x="198.0" y="93.5" font-size="5.6" font-weight="normal" font-style="normal" fill="#222" text-anchor="start" stroke="#222" stroke-width="0.15">dead cells</text>
<path d="M208.5,116.7 C209.5,116.5 213.0,115.8 214.6,115.2 C216.2,114.7 216.9,113.9 218.3,113.4 C219.7,112.9 221.9,113.3 223.2,112.2 C224.5,111.1 225.5,108.8 226.3,106.6 C227.1,104.4 227.6,101.3 228.2,99.2 C228.8,97.1 229.0,93.5 229.6,93.7 C230.2,93.9 231.1,97.7 231.8,100.5 C232.5,103.3 233.1,107.6 233.7,110.3 C234.3,113.0 235.2,115.5 235.5,116.5" fill="none" stroke="#8a8a8a" stroke-width="0.9" stroke-linejoin="round"/>
<line x1="115" y1="320.6" x2="184" y2="320.6" stroke="#111" stroke-width="1.1"/>
<path d="M182.4,318.1 L188.8,320.6 L182.4,323.1 Z" fill="#111"/>
<text x="120.6" y="329.2" font-size="8.6" font-weight="normal" font-style="normal" fill="#333" text-anchor="start" stroke="#333" stroke-width="0.15">AnnexinV-FITC</text>
<text x="272.6" y="11.4" font-size="13.4" font-weight="bold" font-style="normal" fill="#111" text-anchor="start" stroke="#111" stroke-width="0.35" stroke-linejoin="round">B</text>
<line x1="361.4" y1="15.9" x2="392.2" y2="15.9" stroke="#333" stroke-width="1.6"/>
<line x1="360.6" y1="36.9" x2="392.2" y2="36.9" stroke="#333" stroke-width="1.6" stroke-dasharray="2.45,2.3"/>
<text x="396.2" y="18.4" font-size="10.35" font-weight="normal" font-style="normal" fill="#333" text-anchor="start" stroke="#333" stroke-width="0.15">non-sensitized</text>
<text x="396.2" y="40.2" font-size="10.35" font-weight="normal" font-style="normal" fill="#333" text-anchor="start" stroke="#333" stroke-width="0.15">IgE sensitized</text>
<text x="339.9" y="75.1" font-size="9.3" font-weight="bold" font-style="normal" fill="#111" text-anchor="start" stroke="#111" stroke-width="0.3">+ SCF/ IL-3</text>
<text x="339.2" y="84.3" font-size="6.9" font-weight="bold" font-style="normal" fill="#111" text-anchor="start" stroke="#111" stroke-width="0.3">+ Q-VD [50<tspan font-weight="normal" stroke-width="0">μ</tspan>M]</text>
<text x="430.4" y="75.1" font-size="9.3" font-weight="bold" font-style="normal" fill="#111" text-anchor="start" stroke="#111" stroke-width="0.3">- SCF/ IL-3 (48h)</text>
<text x="443.2" y="84.3" font-size="6.9" font-weight="bold" font-style="normal" fill="#111" text-anchor="start" stroke="#111" stroke-width="0.3">+ Q-VD [50<tspan font-weight="normal" stroke-width="0">μ</tspan>M]</text>
<text x="269.4" y="114.0" font-size="8.6" font-weight="bold" font-style="normal" fill="#111" text-anchor="start" stroke="#111" stroke-width="0.3">Wild-type</text>
<text x="271.6" y="174.0" font-size="8.6" font-weight="bold" font-style="normal" fill="#111" text-anchor="start" stroke="#111" stroke-width="0.3">Casp-9<tspan font-size="8.6" dy="-3.2">-/-</tspan></text>
<text x="273.3" y="234.9" font-size="8.6" font-weight="bold" font-style="normal" fill="#111" text-anchor="start" stroke="#111" stroke-width="0.3">Apaf-1<tspan font-size="8.6" dy="-3.2">-/-</tspan></text>
<path d="M316.9,137.7 L316.9,88.3 L410.5,88.3 L410.5,137.7" fill="none" stroke="#a4a4a4" stroke-width="1.45"/>
<line x1="316.9" y1="137.7" x2="410.5" y2="137.7" stroke="#a4a4a4" stroke-width="1.45"/>
<path d="M323.9,137.7 v1.3 M328.1,137.7 v1.3 M331.0,137.7 v1.3 M333.3,137.7 v1.3 M335.1,137.7 v1.3 M336.7,137.7 v1.3 M338.0,137.7 v1.3 M339.2,137.7 v1.3 M347.3,137.7 v1.3 M351.5,137.7 v1.3 M354.4,137.7 v1.3 M356.7,137.7 v1.3 M358.5,137.7 v1.3 M360.1,137.7 v1.3 M361.4,137.7 v1.3 M362.6,137.7 v1.3 M370.7,137.7 v1.3 M374.9,137.7 v1.3 M377.8,137.7 v1.3 M380.1,137.7 v1.3 M381.9,137.7 v1.3 M383.5,137.7 v1.3 M384.8,137.7 v1.3 M386.0,137.7 v1.3 M394.1,137.7 v1.3 M398.3,137.7 v1.3 M401.2,137.7 v1.3 M403.5,137.7 v1.3 M405.3,137.7 v1.3 M406.9,137.7 v1.3 M408.2,137.7 v1.3 M409.4,137.7 v1.3 M316.9,137.7 v2 M340.3,137.7 v2 M363.7,137.7 v2 M387.1,137.7 v2 M410.5,137.7 v2" stroke="#555" stroke-width="0.8" fill="none"/>
<text x="318.0" y="144.7" font-size="4.3" fill="#333" text-anchor="end">10</text>
<text x="318.8" y="141.2" font-size="3.2" fill="#333">0</text>
<text x="341.4" y="144.7" font-size="4.3" fill="#333" text-anchor="end">10</text>
<text x="342.2" y="141.2" font-size="3.2" fill="#333">1</text>
<text x="364.8" y="144.7" font-size="4.3" fill="#333" text-anchor="end">10</text>
<text x="365.6" y="141.2" font-size="3.2" fill="#333">2</text>
<text x="388.2" y="144.7" font-size="4.3" fill="#333" text-anchor="end">10</text>
<text x="389.0" y="141.2" font-size="3.2" fill="#333">3</text>
<text x="411.6" y="144.7" font-size="4.3" fill="#333" text-anchor="end">10</text>
<text x="412.4" y="141.2" font-size="3.2" fill="#333">4</text>
<path d="M421.3,137.7 L421.3,88.3 L514.6,88.3 L514.6,137.7" fill="none" stroke="#a4a4a4" stroke-width="1.45"/>
<line x1="421.3" y1="137.7" x2="514.6" y2="137.7" stroke="#a4a4a4" stroke-width="1.45"/>
<path d="M428.3,137.7 v1.3 M432.4,137.7 v1.3 M435.3,137.7 v1.3 M437.6,137.7 v1.3 M439.5,137.7 v1.3 M441.0,137.7 v1.3 M442.4,137.7 v1.3 M443.6,137.7 v1.3 M451.6,137.7 v1.3 M455.8,137.7 v1.3 M458.7,137.7 v1.3 M460.9,137.7 v1.3 M462.8,137.7 v1.3 M464.3,137.7 v1.3 M465.7,137.7 v1.3 M466.9,137.7 v1.3 M475.0,137.7 v1.3 M479.1,137.7 v1.3 M482.0,137.7 v1.3 M484.3,137.7 v1.3 M486.1,137.7 v1.3 M487.7,137.7 v1.3 M489.0,137.7 v1.3 M490.2,137.7 v1.3 M498.3,137.7 v1.3 M502.4,137.7 v1.3 M505.3,137.7 v1.3 M507.6,137.7 v1.3 M509.4,137.7 v1.3 M511.0,137.7 v1.3 M512.3,137.7 v1.3 M513.5,137.7 v1.3 M421.3,137.7 v2 M444.6,137.7 v2 M468.0,137.7 v2 M491.3,137.7 v2 M514.6,137.7 v2" stroke="#555" stroke-width="0.8" fill="none"/>
<text x="422.4" y="144.7" font-size="4.3" fill="#333" text-anchor="end">10</text>
<text x="423.2" y="141.2" font-size="3.2" fill="#333">0</text>
<text x="445.7" y="144.7" font-size="4.3" fill="#333" text-anchor="end">10</text>
<text x="446.5" y="141.2" font-size="3.2" fill="#333">1</text>
<text x="469.1" y="144.7" font-size="4.3" fill="#333" text-anchor="end">10</text>
<text x="469.9" y="141.2" font-size="3.2" fill="#333">2</text>
<text x="492.4" y="144.7" font-size="4.3" fill="#333" text-anchor="end">10</text>
<text x="493.2" y="141.2" font-size="3.2" fill="#333">3</text>
<text x="515.7" y="144.7" font-size="4.3" fill="#333" text-anchor="end">10</text>
<text x="516.5" y="141.2" font-size="3.2" fill="#333">4</text>
<path d="M316.9,198.2 L316.9,148.3 L410.5,148.3 L410.5,198.2" fill="none" stroke="#a4a4a4" stroke-width="1.45"/>
<line x1="316.9" y1="198.2" x2="410.5" y2="198.2" stroke="#a4a4a4" stroke-width="1.45"/>
<path d="M323.9,198.2 v1.3 M328.1,198.2 v1.3 M331.0,198.2 v1.3 M333.3,198.2 v1.3 M335.1,198.2 v1.3 M336.7,198.2 v1.3 M338.0,198.2 v1.3 M339.2,198.2 v1.3 M347.3,198.2 v1.3 M351.5,198.2 v1.3 M354.4,198.2 v1.3 M356.7,198.2 v1.3 M358.5,198.2 v1.3 M360.1,198.2 v1.3 M361.4,198.2 v1.3 M362.6,198.2 v1.3 M370.7,198.2 v1.3 M374.9,198.2 v1.3 M377.8,198.2 v1.3 M380.1,198.2 v1.3 M381.9,198.2 v1.3 M383.5,198.2 v1.3 M384.8,198.2 v1.3 M386.0,198.2 v1.3 M394.1,198.2 v1.3 M398.3,198.2 v1.3 M401.2,198.2 v1.3 M403.5,198.2 v1.3 M405.3,198.2 v1.3 M406.9,198.2 v1.3 M408.2,198.2 v1.3 M409.4,198.2 v1.3 M316.9,198.2 v2 M340.3,198.2 v2 M363.7,198.2 v2 M387.1,198.2 v2 M410.5,198.2 v2" stroke="#555" stroke-width="0.8" fill="none"/>
<text x="318.0" y="205.2" font-size="4.3" fill="#333" text-anchor="end">10</text>
<text x="318.8" y="201.7" font-size="3.2" fill="#333">0</text>
<text x="341.4" y="205.2" font-size="4.3" fill="#333" text-anchor="end">10</text>
<text x="342.2" y="201.7" font-size="3.2" fill="#333">1</text>
<text x="364.8" y="205.2" font-size="4.3" fill="#333" text-anchor="end">10</text>
<text x="365.6" y="201.7" font-size="3.2" fill="#333">2</text>
<text x="388.2" y="205.2" font-size="4.3" fill="#333" text-anchor="end">10</text>
<text x="389.0" y="201.7" font-size="3.2" fill="#333">3</text>
<text x="411.6" y="205.2" font-size="4.3" fill="#333" text-anchor="end">10</text>
<text x="412.4" y="201.7" font-size="3.2" fill="#333">4</text>
<path d="M421.3,198.2 L421.3,148.3 L514.6,148.3 L514.6,198.2" fill="none" stroke="#a4a4a4" stroke-width="1.45"/>
<line x1="421.3" y1="198.2" x2="514.6" y2="198.2" stroke="#a4a4a4" stroke-width="1.45"/>
<path d="M428.3,198.2 v1.3 M432.4,198.2 v1.3 M435.3,198.2 v1.3 M437.6,198.2 v1.3 M439.5,198.2 v1.3 M441.0,198.2 v1.3 M442.4,198.2 v1.3 M443.6,198.2 v1.3 M451.6,198.2 v1.3 M455.8,198.2 v1.3 M458.7,198.2 v1.3 M460.9,198.2 v1.3 M462.8,198.2 v1.3 M464.3,198.2 v1.3 M465.7,198.2 v1.3 M466.9,198.2 v1.3 M475.0,198.2 v1.3 M479.1,198.2 v1.3 M482.0,198.2 v1.3 M484.3,198.2 v1.3 M486.1,198.2 v1.3 M487.7,198.2 v1.3 M489.0,198.2 v1.3 M490.2,198.2 v1.3 M498.3,198.2 v1.3 M502.4,198.2 v1.3 M505.3,198.2 v1.3 M507.6,198.2 v1.3 M509.4,198.2 v1.3 M511.0,198.2 v1.3 M512.3,198.2 v1.3 M513.5,198.2 v1.3 M421.3,198.2 v2 M444.6,198.2 v2 M468.0,198.2 v2 M491.3,198.2 v2 M514.6,198.2 v2" stroke="#555" stroke-width="0.8" fill="none"/>
<text x="422.4" y="205.2" font-size="4.3" fill="#333" text-anchor="end">10</text>
<text x="423.2" y="201.7" font-size="3.2" fill="#333">0</text>
<text x="445.7" y="205.2" font-size="4.3" fill="#333" text-anchor="end">10</text>
<text x="446.5" y="201.7" font-size="3.2" fill="#333">1</text>
<text x="469.1" y="205.2" font-size="4.3" fill="#333" text-anchor="end">10</text>
<text x="469.9" y="201.7" font-size="3.2" fill="#333">2</text>
<text x="492.4" y="205.2" font-size="4.3" fill="#333" text-anchor="end">10</text>
<text x="493.2" y="201.7" font-size="3.2" fill="#333">3</text>
<text x="515.7" y="205.2" font-size="4.3" fill="#333" text-anchor="end">10</text>
<text x="516.5" y="201.7" font-size="3.2" fill="#333">4</text>
<path d="M316.9,259.2 L316.9,209.4 L410.5,209.4 L410.5,259.2" fill="none" stroke="#a4a4a4" stroke-width="1.45"/>
<line x1="316.9" y1="259.2" x2="410.5" y2="259.2" stroke="#a4a4a4" stroke-width="1.45"/>
<path d="M323.9,259.2 v1.3 M328.1,259.2 v1.3 M331.0,259.2 v1.3 M333.3,259.2 v1.3 M335.1,259.2 v1.3 M336.7,259.2 v1.3 M338.0,259.2 v1.3 M339.2,259.2 v1.3 M347.3,259.2 v1.3 M351.5,259.2 v1.3 M354.4,259.2 v1.3 M356.7,259.2 v1.3 M358.5,259.2 v1.3 M360.1,259.2 v1.3 M361.4,259.2 v1.3 M362.6,259.2 v1.3 M370.7,259.2 v1.3 M374.9,259.2 v1.3 M377.8,259.2 v1.3 M380.1,259.2 v1.3 M381.9,259.2 v1.3 M383.5,259.2 v1.3 M384.8,259.2 v1.3 M386.0,259.2 v1.3 M394.1,259.2 v1.3 M398.3,259.2 v1.3 M401.2,259.2 v1.3 M403.5,259.2 v1.3 M405.3,259.2 v1.3 M406.9,259.2 v1.3 M408.2,259.2 v1.3 M409.4,259.2 v1.3 M316.9,259.2 v2 M340.3,259.2 v2 M363.7,259.2 v2 M387.1,259.2 v2 M410.5,259.2 v2" stroke="#555" stroke-width="0.8" fill="none"/>
<text x="318.0" y="266.2" font-size="4.3" fill="#333" text-anchor="end">10</text>
<text x="318.8" y="262.7" font-size="3.2" fill="#333">0</text>
<text x="341.4" y="266.2" font-size="4.3" fill="#333" text-anchor="end">10</text>
<text x="342.2" y="262.7" font-size="3.2" fill="#333">1</text>
<text x="364.8" y="266.2" font-size="4.3" fill="#333" text-anchor="end">10</text>
<text x="365.6" y="262.7" font-size="3.2" fill="#333">2</text>
<text x="388.2" y="266.2" font-size="4.3" fill="#333" text-anchor="end">10</text>
<text x="389.0" y="262.7" font-size="3.2" fill="#333">3</text>
<text x="411.6" y="266.2" font-size="4.3" fill="#333" text-anchor="end">10</text>
<text x="412.4" y="262.7" font-size="3.2" fill="#333">4</text>
<path d="M421.3,259.2 L421.3,209.4 L514.6,209.4 L514.6,259.2" fill="none" stroke="#a4a4a4" stroke-width="1.45"/>
<line x1="421.3" y1="259.2" x2="514.6" y2="259.2" stroke="#a4a4a4" stroke-width="1.45"/>
<path d="M428.3,259.2 v1.3 M432.4,259.2 v1.3 M435.3,259.2 v1.3 M437.6,259.2 v1.3 M439.5,259.2 v1.3 M441.0,259.2 v1.3 M442.4,259.2 v1.3 M443.6,259.2 v1.3 M451.6,259.2 v1.3 M455.8,259.2 v1.3 M458.7,259.2 v1.3 M460.9,259.2 v1.3 M462.8,259.2 v1.3 M464.3,259.2 v1.3 M465.7,259.2 v1.3 M466.9,259.2 v1.3 M475.0,259.2 v1.3 M479.1,259.2 v1.3 M482.0,259.2 v1.3 M484.3,259.2 v1.3 M486.1,259.2 v1.3 M487.7,259.2 v1.3 M489.0,259.2 v1.3 M490.2,259.2 v1.3 M498.3,259.2 v1.3 M502.4,259.2 v1.3 M505.3,259.2 v1.3 M507.6,259.2 v1.3 M509.4,259.2 v1.3 M511.0,259.2 v1.3 M512.3,259.2 v1.3 M513.5,259.2 v1.3 M421.3,259.2 v2 M444.6,259.2 v2 M468.0,259.2 v2 M491.3,259.2 v2 M514.6,259.2 v2" stroke="#555" stroke-width="0.8" fill="none"/>
<text x="422.4" y="266.2" font-size="4.3" fill="#333" text-anchor="end">10</text>
<text x="423.2" y="262.7" font-size="3.2" fill="#333">0</text>
<text x="445.7" y="266.2" font-size="4.3" fill="#333" text-anchor="end">10</text>
<text x="446.5" y="262.7" font-size="3.2" fill="#333">1</text>
<text x="469.1" y="266.2" font-size="4.3" fill="#333" text-anchor="end">10</text>
<text x="469.9" y="262.7" font-size="3.2" fill="#333">2</text>
<text x="492.4" y="266.2" font-size="4.3" fill="#333" text-anchor="end">10</text>
<text x="493.2" y="262.7" font-size="3.2" fill="#333">3</text>
<text x="515.7" y="266.2" font-size="4.3" fill="#333" text-anchor="end">10</text>
<text x="516.5" y="262.7" font-size="3.2" fill="#333">4</text>
<path d="M317.0,137.6 C317.5,137.5 319.1,137.4 320.0,136.8 C320.9,136.2 321.5,135.3 322.3,133.8 C323.1,132.3 323.9,130.2 324.6,127.7 C325.4,125.2 326.1,122.0 326.8,118.7 C327.6,115.4 328.3,111.4 329.1,108.1 C329.9,104.8 330.7,101.3 331.4,99.1 C332.1,96.9 332.6,94.8 333.2,94.8 C333.8,94.8 334.5,97.6 335.1,99.1 C335.7,100.6 336.1,102.0 336.6,103.6 C337.1,105.2 337.7,107.0 338.2,108.9 C338.7,110.8 339.2,113.0 339.7,114.9 C340.2,116.8 340.6,118.3 341.2,120.2 C341.8,122.1 342.5,124.3 343.4,126.2 C344.3,128.1 345.4,130.0 346.5,131.5 C347.6,133.0 348.8,134.1 350.2,135.0 C351.6,135.9 353.3,136.4 354.8,136.8 C356.3,137.2 358.6,137.5 359.3,137.6" fill="none" stroke="#2c2c2c" stroke-width="1.0" stroke-linejoin="round"/>
<path d="M321.5,137.8 C322.0,137.4 323.6,136.6 324.6,135.3 C325.6,134.0 326.6,131.9 327.6,130.0 C328.6,128.1 329.6,126.1 330.6,124.0 C331.6,121.9 332.6,119.7 333.6,117.2 C334.6,114.7 335.7,110.8 336.6,108.9 C337.5,107.0 338.1,106.5 338.9,105.8 C339.7,105.1 340.4,104.8 341.2,104.8 C341.9,104.8 342.6,105.2 343.4,105.8 C344.1,106.3 344.9,107.3 345.7,108.1 C346.5,108.9 347.2,109.5 348.0,110.4 C348.8,111.3 349.4,112.2 350.2,113.4 C350.9,114.7 351.7,116.3 352.5,117.9 C353.3,119.5 354.1,121.7 354.8,123.2 C355.6,124.7 356.0,125.9 357.0,127.0 C358.0,128.1 359.4,129.1 360.8,130.0 C362.2,130.9 363.8,131.6 365.3,132.3 C366.8,133.0 368.3,133.5 369.8,134.1 C371.3,134.7 372.9,135.4 374.4,136.0 C375.9,136.6 378.1,137.3 378.9,137.6" fill="none" stroke="#2c2c2c" stroke-width="1.0" stroke-dasharray="2.4,1.6" stroke-linejoin="round"/>
<path d="M422.0,137.6 C422.8,137.5 425.1,137.3 426.5,136.8 C427.9,136.3 429.3,135.8 430.3,134.5 C431.3,133.2 431.9,131.6 432.6,129.2 C433.4,126.8 434.1,123.7 434.8,120.2 C435.6,116.7 436.3,111.6 437.1,108.1 C437.9,104.6 438.7,101.5 439.4,99.1 C440.1,96.7 440.7,94.2 441.3,93.8 C441.9,93.4 442.6,95.5 443.2,96.8 C443.8,98.0 444.1,99.8 444.7,101.3 C445.3,102.8 446.3,104.2 446.9,105.8 C447.5,107.4 447.8,109.4 448.4,111.1 C449.0,112.8 449.8,114.2 450.7,115.7 C451.6,117.2 452.7,118.5 453.7,120.2 C454.7,122.0 455.8,124.4 456.7,126.2 C457.6,128.0 458.1,129.4 459.0,130.8 C459.9,132.2 460.9,133.6 462.0,134.5 C463.1,135.4 464.4,135.6 465.8,136.0 C467.2,136.4 468.8,136.8 470.3,137.1 C471.8,137.4 474.1,137.6 474.8,137.7" fill="none" stroke="#2c2c2c" stroke-width="1.0" stroke-linejoin="round"/>
<path d="M422.0,137.6 C422.8,137.5 425.1,137.3 426.5,136.8 C427.9,136.3 429.3,135.8 430.3,134.5 C431.3,133.2 431.9,131.6 432.6,129.2 C433.4,126.8 434.1,123.7 434.8,120.2 C435.6,116.7 436.3,111.6 437.1,108.1 C437.9,104.6 438.7,101.5 439.4,99.1 C440.1,96.7 440.7,94.2 441.3,93.8 C441.9,93.4 442.6,95.5 443.2,96.8 C443.8,98.0 444.1,99.8 444.7,101.3 C445.3,102.8 446.3,104.2 446.9,105.8 C447.5,107.4 447.8,109.4 448.4,111.1 C449.0,112.8 449.8,114.2 450.7,115.7 C451.6,117.2 452.7,118.5 453.7,120.2 C454.7,122.0 455.8,124.4 456.7,126.2 C457.6,128.0 458.1,129.4 459.0,130.8 C459.9,132.2 460.9,133.6 462.0,134.5 C463.1,135.4 464.4,135.6 465.8,136.0 C467.2,136.4 468.8,136.8 470.3,137.1 C471.8,137.4 474.1,137.6 474.8,137.7" fill="none" stroke="#2c2c2c" stroke-width="1.0" stroke-dasharray="2.4,1.6" stroke-linejoin="round"/>
<path d="M317.8,198.0 C318.3,197.8 319.9,197.5 320.8,196.8 C321.7,196.1 322.4,195.3 323.1,193.8 C323.9,192.3 324.6,190.5 325.3,187.7 C326.1,184.9 326.9,181.0 327.6,177.2 C328.4,173.4 329.2,168.4 329.8,165.1 C330.4,161.8 330.9,159.1 331.4,157.5 C331.9,155.9 332.2,155.4 332.6,155.3 C333.0,155.2 333.5,155.7 333.9,156.8 C334.3,157.9 334.7,159.7 335.1,162.1 C335.6,164.5 336.1,168.3 336.6,171.1 C337.1,173.9 337.6,176.3 338.2,178.7 C338.8,181.1 339.5,183.5 340.4,185.5 C341.3,187.5 342.3,189.4 343.4,190.8 C344.5,192.2 345.8,193.2 347.2,194.1 C348.6,195.0 350.2,195.5 351.7,196.0 C353.2,196.5 354.8,196.8 356.3,197.1 C357.8,197.4 360.1,197.8 360.8,198.0" fill="none" stroke="#2c2c2c" stroke-width="1.0" stroke-linejoin="round"/>
<path d="M320.8,198.0 C321.3,197.6 322.8,196.6 323.8,195.3 C324.8,194.0 325.9,192.0 326.8,190.0 C327.7,188.0 328.3,185.8 329.1,183.2 C329.9,180.6 330.8,177.0 331.4,174.2 C332.0,171.4 332.4,168.9 332.9,166.6 C333.4,164.3 333.9,161.9 334.4,160.6 C334.9,159.3 335.4,158.7 335.9,158.8 C336.4,158.9 336.8,160.0 337.4,161.3 C338.0,162.6 338.9,164.7 339.7,166.6 C340.4,168.5 341.0,170.7 341.9,172.6 C342.8,174.5 343.9,176.4 344.9,177.9 C345.9,179.4 346.9,180.4 348.0,181.7 C349.1,183.0 350.3,184.2 351.7,185.5 C353.1,186.8 354.8,188.1 356.3,189.2 C357.8,190.3 359.2,191.4 360.8,192.3 C362.4,193.2 364.3,193.9 366.1,194.5 C367.9,195.1 369.8,195.5 371.4,196.0 C373.0,196.5 374.8,197.2 375.9,197.5 C377.0,197.8 377.6,197.9 378.0,198.0" fill="none" stroke="#2c2c2c" stroke-width="1.0" stroke-dasharray="2.4,1.6" stroke-linejoin="round"/>
<path d="M428.1,198.0 C428.6,197.6 430.2,196.5 431.1,195.3 C432.0,194.1 432.6,192.8 433.3,190.8 C434.1,188.8 434.8,186.2 435.6,183.2 C436.4,180.2 437.2,175.8 437.9,172.6 C438.6,169.4 439.2,166.3 439.8,164.3 C440.4,162.3 440.7,161.2 441.3,160.6 C441.9,160.0 442.6,160.5 443.2,160.9 C443.8,161.3 444.2,161.7 444.7,162.8 C445.2,163.9 445.6,166.3 446.2,167.4 C446.8,168.5 447.5,169.0 448.4,169.6 C449.3,170.2 450.5,170.6 451.5,171.1 C452.5,171.6 453.6,172.0 454.5,172.6 C455.4,173.2 456.1,173.8 456.7,174.9 C457.3,176.0 457.6,177.8 458.2,179.4 C458.8,181.0 459.6,183.1 460.5,184.7 C461.4,186.3 462.4,187.8 463.5,189.2 C464.6,190.6 466.0,191.9 467.3,193.0 C468.6,194.1 469.7,194.9 471.1,195.6 C472.5,196.3 474.2,196.7 475.6,197.1 C477.0,197.5 478.8,197.8 479.4,198.0" fill="none" stroke="#2c2c2c" stroke-width="1.0" stroke-linejoin="round"/>
<path d="M430.3,198.0 C430.7,197.4 431.9,196.1 432.6,194.5 C433.4,192.9 434.1,190.9 434.8,188.5 C435.5,186.1 436.2,183.1 436.8,180.2 C437.4,177.3 438.1,173.6 438.6,171.1 C439.2,168.6 439.6,166.6 440.1,165.1 C440.6,163.6 441.1,162.5 441.6,162.1 C442.1,161.7 442.6,161.9 443.2,162.4 C443.8,162.9 444.5,164.2 445.0,165.1 C445.5,166.0 445.5,167.2 446.2,168.1 C446.9,169.0 448.1,169.9 449.2,170.4 C450.3,170.9 451.9,170.7 453.0,171.1 C454.1,171.5 455.1,171.8 456.0,172.6 C456.9,173.4 457.4,174.0 458.2,175.7 C458.9,177.3 459.6,180.5 460.5,182.5 C461.4,184.5 462.4,186.1 463.5,187.7 C464.6,189.3 465.9,191.0 467.3,192.3 C468.7,193.6 470.3,194.7 471.8,195.6 C473.3,196.5 475.1,197.1 476.3,197.5 C477.5,197.9 478.6,197.9 479.0,198.0" fill="none" stroke="#2c2c2c" stroke-width="1.0" stroke-dasharray="2.4,1.6" stroke-linejoin="round"/>
<path d="M320.0,258.8 C320.6,258.3 322.8,257.1 323.8,256.0 C324.8,254.9 325.4,254.2 326.1,252.3 C326.9,250.4 327.6,248.0 328.3,244.7 C329.1,241.4 329.8,236.4 330.6,232.6 C331.4,228.8 332.2,224.7 332.9,222.1 C333.6,219.5 334.2,218.2 334.8,217.2 C335.4,216.2 335.6,216.0 336.2,216.3 C336.8,216.6 337.5,217.4 338.2,219.1 C338.9,220.8 339.6,224.1 340.4,226.6 C341.1,229.1 341.9,231.8 342.7,234.2 C343.4,236.6 344.1,238.9 344.9,240.9 C345.6,242.9 346.3,244.5 347.2,246.2 C348.1,247.8 349.1,249.4 350.2,250.8 C351.3,252.2 352.7,253.5 354.0,254.5 C355.3,255.5 356.4,256.2 357.8,256.8 C359.2,257.4 360.9,257.9 362.3,258.3 C363.7,258.7 365.4,258.9 366.0,259.0" fill="none" stroke="#2c2c2c" stroke-width="1.0" stroke-linejoin="round"/>
<path d="M323.1,258.8 C323.7,258.3 325.6,257.1 326.8,256.0 C328.1,254.9 329.5,253.8 330.6,252.3 C331.7,250.8 332.6,249.0 333.6,247.0 C334.6,245.0 335.7,242.2 336.6,240.2 C337.5,238.2 338.1,236.5 338.9,234.9 C339.7,233.3 340.3,231.7 341.2,230.4 C342.1,229.2 343.2,228.1 344.2,227.4 C345.2,226.7 346.3,226.6 347.2,226.3 C348.1,226.0 348.8,225.3 349.5,225.5 C350.2,225.7 350.9,226.6 351.7,227.4 C352.4,228.2 353.2,229.2 354.0,230.4 C354.8,231.7 355.4,233.4 356.3,234.9 C357.2,236.4 358.3,238.3 359.3,239.4 C360.3,240.5 361.2,241.2 362.3,241.7 C363.4,242.2 364.9,242.1 366.1,242.2 C367.4,242.2 368.8,241.6 369.8,242.0 C370.8,242.4 371.3,243.5 372.1,244.7 C372.9,245.9 373.5,247.7 374.4,249.2 C375.3,250.7 376.4,252.5 377.4,253.8 C378.4,255.1 379.5,256.3 380.4,257.1 C381.3,257.9 382.3,258.5 382.7,258.8" fill="none" stroke="#2c2c2c" stroke-width="1.0" stroke-dasharray="2.4,1.6" stroke-linejoin="round"/>
<path d="M428.1,258.8 C428.7,258.5 430.8,257.8 431.8,256.8 C432.8,255.8 433.3,254.8 434.1,253.0 C434.9,251.2 435.6,248.8 436.4,246.2 C437.1,243.6 437.9,240.0 438.6,237.2 C439.3,234.4 439.8,231.4 440.4,229.6 C441.0,227.8 441.7,227.5 442.4,226.6 C443.1,225.7 443.8,225.1 444.4,224.3 C445.0,223.6 445.6,222.2 446.2,222.1 C446.8,222.0 447.4,223.0 448.0,223.6 C448.6,224.2 449.2,225.2 449.9,225.9 C450.6,226.7 451.3,227.5 452.2,228.1 C453.1,228.7 454.3,229.1 455.2,229.6 C456.1,230.1 456.8,229.8 457.5,231.1 C458.2,232.4 458.9,235.3 459.7,237.2 C460.4,239.1 461.2,240.9 462.0,242.5 C462.8,244.1 463.4,245.6 464.3,247.0 C465.2,248.4 466.2,249.7 467.3,250.8 C468.4,251.9 469.9,252.9 471.1,253.8 C472.4,254.7 473.4,255.4 474.8,256.1 C476.2,256.8 477.9,257.6 479.4,258.0 C480.9,258.4 483.1,258.7 483.9,258.8" fill="none" stroke="#2c2c2c" stroke-width="1.0" stroke-linejoin="round"/>
<path d="M428.1,258.8 C428.7,258.5 430.8,257.8 431.8,256.8 C432.8,255.8 433.3,254.8 434.1,253.0 C434.9,251.2 435.6,248.8 436.4,246.2 C437.1,243.6 437.9,240.0 438.6,237.2 C439.3,234.4 439.8,231.4 440.4,229.6 C441.0,227.8 441.7,227.3 442.4,226.2 C443.1,225.1 443.9,223.6 444.7,222.8 C445.5,222.0 446.2,221.6 447.0,221.3 C447.8,221.0 448.4,220.8 449.2,220.9 C449.9,221.0 450.7,221.3 451.5,222.1 C452.3,222.9 453.1,224.9 453.8,225.9 C454.6,226.9 455.2,227.4 456.0,228.1 C456.8,228.8 457.6,228.9 458.3,230.2 C459.0,231.5 459.4,234.1 460.0,236.0 C460.6,237.9 461.3,239.8 462.0,241.5 C462.7,243.2 463.4,244.6 464.3,246.0 C465.2,247.4 466.3,248.8 467.3,250.0 C468.3,251.2 469.1,252.1 470.3,253.0 C471.6,253.9 473.3,254.5 474.8,255.3 C476.3,256.1 477.8,257.0 479.4,257.6 C481.0,258.2 483.6,258.6 484.5,258.8" fill="none" stroke="#2c2c2c" stroke-width="1.0" stroke-dasharray="2.4,1.6" stroke-linejoin="round"/>
<line x1="378.2" y1="269.9" x2="447" y2="269.9" stroke="#2a2a2a" stroke-width="1.15"/>
<path d="M445.6,267.2 L452,269.9 L445.6,272.6 Z" fill="#111"/>
<text x="384.0" y="278.0" font-size="8.6" font-weight="normal" font-style="normal" fill="#333" text-anchor="start" stroke="#333" stroke-width="0.15">AnnexinV-FITC</text>
</svg>
</body></html>
